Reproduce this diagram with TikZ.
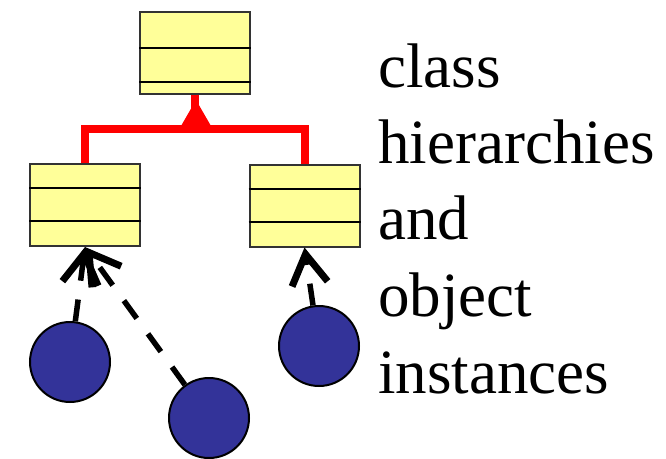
\documentclass[tikz,border=0pt]{standalone}
\usepackage{fontspec}
\setmainfont{Liberation Serif}
\usetikzlibrary{arrows.meta,calc}
\definecolor{classfill}{HTML}{FFFF99}
\definecolor{objfill}{HTML}{333399}
\definecolor{inhred}{HTML}{FF0000}
\tikzset{
  classbox/.style={draw=black!80, line width=2pt, fill=classfill, rectangle,
    minimum width=110pt, minimum height=82pt, inner sep=0pt},
  divider/.style={draw=black, line width=2pt},
  objdot/.style={circle, draw=black, line width=2pt, fill=objfill,
    minimum size=80pt, inner sep=0pt},
  inherit/.style={draw=inhred, line width=8pt, line join=miter},
  instof/.style={draw=black, line width=5.5pt, dash pattern=on 22pt off 19pt,
    -{Straight Barb[length=30pt, width=36pt, line width=7pt, line cap=butt]}},
  label/.style={anchor=base west, inner sep=0pt,
    font=\fontsize{63}{76}\selectfont}
}
\begin{document}
\begin{tikzpicture}[x=1pt, y=-1pt]
  \useasboundingbox (0,0) rectangle (666,458);

  % classes
  \node[classbox] (base)  at (195,52.5) {};
  \node[classbox] (left)  at (85,205)   {};
  \node[classbox] (right) at (304.5,205.5) {};

  % compartment dividers
  \draw[divider] ($(base.north west)+(0,37)$) -- ($(base.north east)+(0,37)$);
  \draw[divider] ($(base.north west)+(0,71)$) -- ($(base.north east)+(0,71)$);
  \draw[divider] ($(left.north west)+(0,25)$) -- ($(left.north east)+(0,25)$);
  \draw[divider] ($(left.north west)+(0,58)$) -- ($(left.north east)+(0,58)$);
  \draw[divider] ($(right.north west)+(0,25)$) -- ($(right.north east)+(0,25)$);
  \draw[divider] ($(right.north west)+(0,58)$) -- ($(right.north east)+(0,58)$);

  % generalisation tree
  \coordinate (join) at (195,129);
  \draw[inherit] (left.north) |- (join) -| (right.north);
  \draw[inherit] (base.south) -- (join);
  \fill[inhred] (196,100) -- (211,126) -- (181,126) -- cycle;

  % objects
  \node[objdot] (o1) at (70,362)  {};
  \node[objdot] (o2) at (209,418) {};
  \node[objdot] (o3) at (319,346) {};

  % instance-of links
  \draw[instof] (o1) -- (left.south);
  \draw[instof] (o2) -- (left.south);
  \draw[instof] (o3) -- (right.south);

  % caption
  \node[label] (t1) at (378,87)  {class};
  \node[label] (t2) at (378,163) {hierarchies};
  \node[label] (t3) at (378,239) {and};
  \node[label] (t4) at (378,316) {object};
  \node[label] (t5) at (378,393) {instances};
\end{tikzpicture}
\end{document}
